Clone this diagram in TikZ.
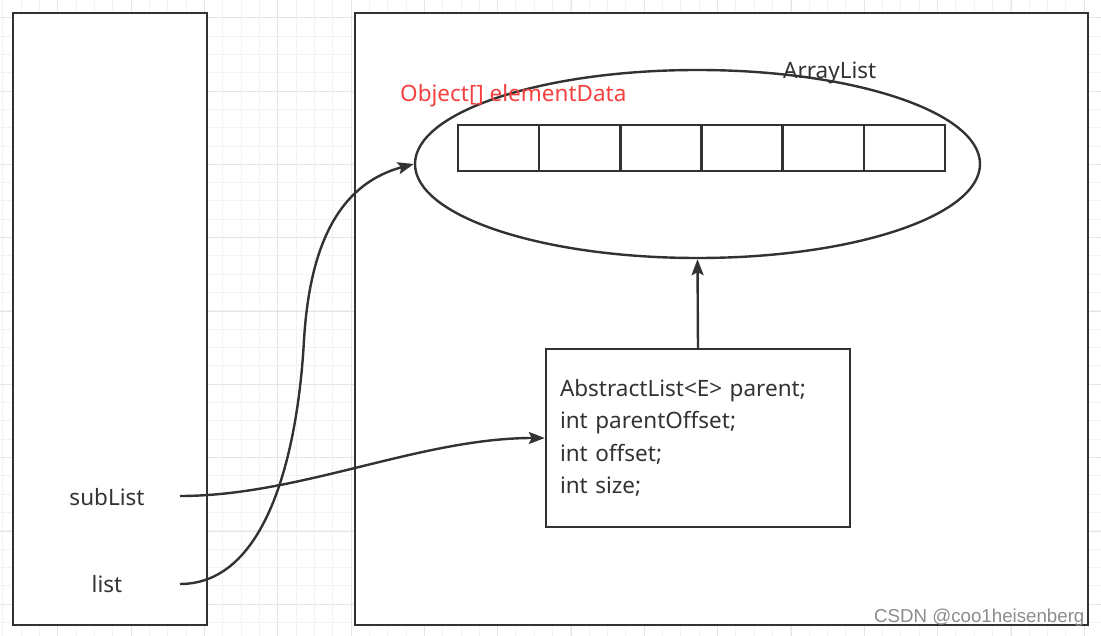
\documentclass[tikz,border=0pt]{standalone}
\usepackage{fontspec}
\setmainfont{Noto Sans}
\newfontfamily\markfont{Liberation Sans}
\usetikzlibrary{arrows.meta,shapes.geometric}
\definecolor{linegray}{RGB}{50,50,50}
\definecolor{textgray}{RGB}{51,51,51}
\definecolor{fieldred}{RGB}{245,64,64}
\definecolor{markgray}{RGB}{140,140,140}
\definecolor{gridminor}{RGB}{243,243,243}
\definecolor{gridmajor}{RGB}{229,229,229}

\begin{document}
\begin{tikzpicture}
[x=1pt,y=-1pt,>={Stealth[length=16pt,width=12pt,inset=3pt]},
 box/.style={draw=linegray,line width=2.4pt,fill=white,inner sep=0pt},
 cell/.style={draw=linegray,line width=2.4pt,minimum width=81.17pt,minimum height=46pt,inner sep=0pt},
 txt/.style={text=textgray,font=\fontsize{22.5}{32.5}\selectfont,inner sep=0pt},
 link/.style={draw=linegray,line width=2.4pt,->},]

\useasboundingbox (0,0) rectangle (1101,636);
\fill[white] (0,0) rectangle (1101,636);

%Background grid
\foreach \gx in {2.75,21.08,...,1101} \draw[gridminor,line width=1pt] (\gx,0) -- (\gx,636);
\foreach \gy in {17.7,36.03,...,636} \draw[gridminor,line width=1pt] (0,\gy) -- (1101,\gy);
\foreach \gx in {57.75,131.08,...,1101} \draw[gridmajor,line width=1pt] (\gx,0) -- (\gx,636);
\foreach \gy in {17.7,91.03,...,636} \draw[gridmajor,line width=1pt] (0,\gy) -- (1101,\gy);

%Stack and heap boxes
\node (stack) at (110,319) [box,minimum width=194pt,minimum height=612pt] {};
\node (heap) at (721.5,319) [box,minimum width=733pt,minimum height=612pt] {};

%ArrayList object with its array
\node (arr) at (697.5,164) [box,ellipse,minimum width=565pt,minimum height=188pt] {};
\foreach \i in {1,...,6}
  \node (cell\i) at ({458+81.17*(\i-0.5)},148) [cell] {};
\node (alist) at (783,79) [txt,anchor=base west] {ArrayList};
\node (edata) at (400,102) [txt,anchor=base west,text=fieldred] {Object[] elementData};

%SubList object
\node (sub) at (698,438) [box,txt,text width=276pt,inner xsep=14pt,minimum height=178pt,align=left]
  {AbstractList<E> parent;\\int parentOffset;\\int offset;\\int size;};

%Local variables
\node (sublist) at (107,505) [txt,anchor=base] {subList};
\node (list) at (107,592) [txt,anchor=base] {list};
\coordinate (subout) at (180,496);
\coordinate (listout) at (180,584);
\coordinate (bend) at (304,340);

%References
\draw[link] (subout) .. controls (300,496) and (420,438) .. (sub.west);
\draw[link] (listout) .. controls (268,584) and (298,450) .. (bend)
  .. controls (309,258) and (332,186) .. (arr.west);
\draw[link] (sub.north) -- (arr.south);

%Watermark
\node (mark) at (874,622) [anchor=base west,inner sep=0pt,text=markgray,font=\markfont\fontsize{18.7}{20}\selectfont] {CSDN @coo1heisenberg};

\end{tikzpicture}
\end{document}
